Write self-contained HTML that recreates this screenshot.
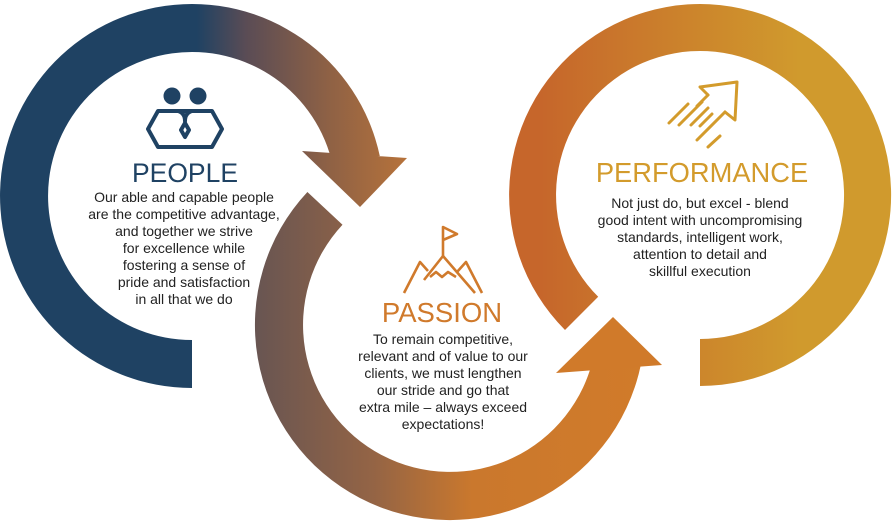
<!DOCTYPE html>
<html><head><meta charset="utf-8"><style>
html,body{margin:0;padding:0;background:#fff;}
svg{display:block;}
text{font-family:"Liberation Sans",sans-serif;}
</style></head><body>
<svg width="893" height="523" viewBox="0 0 893 523" xmlns="http://www.w3.org/2000/svg">
<defs>
<linearGradient id="g1" gradientUnits="userSpaceOnUse" x1="0" y1="0" x2="410" y2="0">
<stop offset="0" stop-color="#1F4263"/><stop offset="0.48" stop-color="#1F4263"/>
<stop offset="0.6" stop-color="#5A4C55"/><stop offset="0.8" stop-color="#8E6145"/><stop offset="1" stop-color="#B8733A"/>
</linearGradient>
<linearGradient id="g2" gradientUnits="userSpaceOnUse" x1="255" y1="0" x2="650" y2="0">
<stop offset="0" stop-color="#685552"/><stop offset="0.3" stop-color="#946445"/>
<stop offset="0.55" stop-color="#CA782D"/><stop offset="1" stop-color="#D17B2A"/>
</linearGradient>
<linearGradient id="g3" gradientUnits="userSpaceOnUse" x1="540" y1="0" x2="800" y2="0">
<stop offset="0" stop-color="#C6662B"/><stop offset="1" stop-color="#D09A2D"/>
</linearGradient>
</defs>
<path d="M192,388 A192,192 0 1 1 379.8,156 L332.9,166 A144,144 0 1 0 192,340 Z" fill="url(#g1)"/>
<polygon points="302,151 407,158 360,207" fill="url(#g1)"/>
<path d="M307.4,192 A195,195 0 1 0 640.7,365.5 L593.8,355.6 A147,147 0 1 1 342.5,224.7 Z" fill="url(#g2)"/>
<polygon points="556,373 613,317 662,365" fill="#D07A2A"/>
<path d="M700,386 A191,191 0 1 0 565,330 L598.2,296.8 A144,144 0 1 1 700,339 Z" fill="url(#g3)"/>

<g fill="none" stroke="#1F4263" stroke-width="4" stroke-linejoin="round">
<circle cx="172" cy="96" r="8.5" fill="#1F4263" stroke="none"/>
<circle cx="198" cy="96" r="8.5" fill="#1F4263" stroke="none"/>
<polygon points="158,111 212,111 222,129 212,147 158,147 148,129"/>
<path d="M178,111 Q185,113 185,121 Q185,113 192,111"/>
<polygon points="185,123 189,130 185,137 181,130"/>
</g>
<g fill="none" stroke="#D07A2C" stroke-width="2.6" stroke-linejoin="round">
<polyline points="443,256 443,227 457,234 443,240"/>
<polyline points="404,293 420,262 428,271"/>
<polyline points="424,280 443,256 475,293"/>
<polyline points="457,272 466,262 482,293"/>
<polyline points="430,277 436,272 442,277 448,272 456,277"/>
</g>
<g fill="none" stroke="#D39B2C" stroke-width="3" stroke-linecap="round" stroke-linejoin="round">
<polyline points="725,112 735,120 737,82 700,87 708,95"/>
<line x1="688" y1="104" x2="669" y2="123"/>
<line x1="702" y1="102" x2="679" y2="125"/>
<line x1="708" y1="108" x2="691" y2="125"/>
<line x1="708" y1="95" x2="697" y2="106"/>
<line x1="725" y1="112" x2="697" y2="140"/>
<line x1="712" y1="114" x2="700" y2="126"/>
<line x1="720" y1="136" x2="708" y2="147"/>
</g>

<text x="185" y="182" text-anchor="middle" font-size="26.5" fill="#1F4263">PEOPLE</text>
<g font-size="14" fill="#222" text-anchor="middle">
<text x="184" y="202">Our able and capable people</text>
<text x="184" y="219">are the competitive advantage,</text>
<text x="184" y="236">and together we strive</text>
<text x="184" y="253">for excellence while</text>
<text x="184" y="270">fostering a sense of</text>
<text x="184" y="287">pride and satisfaction</text>
<text x="184" y="304">in all that we do</text>
</g>
<text x="442" y="322" text-anchor="middle" font-size="27.5" fill="#D07A2C">PASSION</text>
<g font-size="14" fill="#222" text-anchor="middle">
<text x="443" y="344">To remain competitive,</text>
<text x="443" y="361">relevant and of value to our</text>
<text x="443" y="378">clients, we must lengthen</text>
<text x="443" y="395">our stride and go that</text>
<text x="443" y="412">extra mile – always exceed</text>
<text x="443" y="429">expectations!</text>
</g>
<text x="702" y="182" text-anchor="middle" font-size="27.3" fill="#D39B2C">PERFORMANCE</text>
<g font-size="14" fill="#222" text-anchor="middle">
<text x="700" y="208">Not just do, but excel - blend</text>
<text x="700" y="225">good intent with uncompromising</text>
<text x="700" y="242">standards, intelligent work,</text>
<text x="700" y="259">attention to detail and</text>
<text x="700" y="276">skillful execution</text>
</g>
</svg>
</body></html>
